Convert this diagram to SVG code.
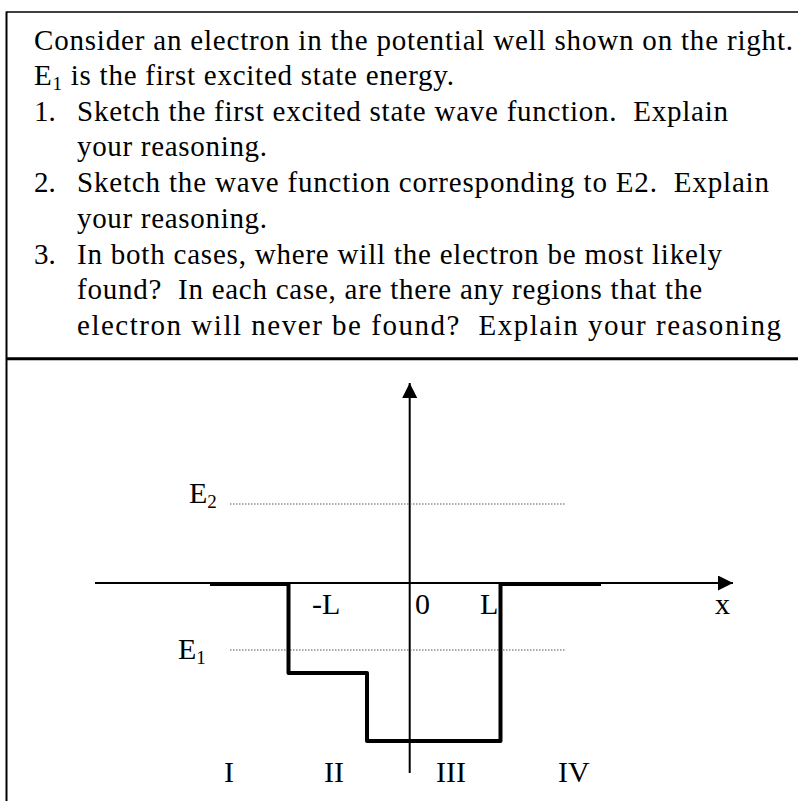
<svg xmlns="http://www.w3.org/2000/svg" width="798" height="801" viewBox="0 0 798 801" xml:space="preserve">
<defs>
<style>
.t{font-family:"Liberation Serif","Times New Roman",serif;font-size:29px;fill:#000;white-space:pre}
.d{font-size:30px}
.s{font-size:19px}
.dot{stroke:#555;stroke-width:1.2;stroke-dasharray:1.5 1.5;fill:none}
.well{stroke:#000;stroke-width:4;fill:none;stroke-linejoin:round}
.axis{stroke:#000;stroke-width:2;fill:none}
</style>
<marker id="arr" viewBox="0 0 15 15" refX="15" refY="7.5" markerWidth="15" markerHeight="15" markerUnits="userSpaceOnUse" orient="auto">
<path d="M0,0 L15,7.5 L0,15 Z" fill="#000"/>
</marker>
</defs>
<rect width="798" height="801" fill="#fff"/>
<g id="frame">
<line x1="6.5" y1="12" x2="798" y2="12" stroke="#000" stroke-width="1.5"/>
<line x1="6.5" y1="11.5" x2="6.5" y2="801" stroke="#000" stroke-width="2"/>
<line x1="6.5" y1="358.7" x2="798" y2="358.7" stroke="#000" stroke-width="3"/>
</g>
<g id="question">
<text class="t" x="34" y="50" textLength="759" lengthAdjust="spacing">Consider an electron in the potential well shown on the right.</text>
<text class="t" x="34" y="85" textLength="420" lengthAdjust="spacing">E<tspan class="s" dy="5">1</tspan><tspan dy="-5"> is the first excited state energy.</tspan></text>
<text class="t" x="34" y="121">1.</text>
<text class="t" x="77" y="121" textLength="651" lengthAdjust="spacing">Sketch the first excited state wave function.  Explain</text>
<text class="t" x="77" y="156" textLength="190" lengthAdjust="spacing">your reasoning.</text>
<text class="t" x="34" y="192">2.</text>
<text class="t" x="77" y="192" textLength="692" lengthAdjust="spacing">Sketch the wave function corresponding to E2.  Explain</text>
<text class="t" x="77" y="228" textLength="190" lengthAdjust="spacing">your reasoning.</text>
<text class="t" x="34" y="264">3.</text>
<text class="t" x="77" y="264" textLength="645" lengthAdjust="spacing">In both cases, where will the electron be most likely</text>
<text class="t" x="77" y="299" textLength="625" lengthAdjust="spacing">found?  In each case, are there any regions that the</text>
<text class="t" x="77" y="335" textLength="704" lengthAdjust="spacing">electron will never be found?  Explain your reasoning</text>
</g>
<g id="connectors">
<line class="axis" x1="409.7" y1="773" x2="409.7" y2="383" marker-end="url(#arr)"/>
<line class="axis" x1="95" y1="583" x2="733" y2="583" marker-end="url(#arr)"/>
<line class="dot" x1="230" y1="504" x2="566" y2="504"/>
<line class="dot" x1="230" y1="650" x2="566" y2="650"/>
</g>
<g id="well">
<polyline class="well" points="210,584 288.5,584 288.5,673 367,673 367,741 500.5,741 500.5,584 601,584"/>
</g>
<g id="labels">
<text class="t d" x="189" y="503">E<tspan class="s" dy="5">2</tspan></text>
<text class="t d" x="178" y="659">E<tspan class="s" dy="5">1</tspan></text>
<text class="t d" x="312" y="614">-L</text>
<text class="t d" x="415" y="614">0</text>
<text class="t d" x="480" y="614">L</text>
<text class="t d" x="715" y="614">x</text>
<text class="t d" x="224" y="782">I</text>
<text class="t d" x="324" y="782">II</text>
<text class="t d" x="436" y="782">III</text>
<text class="t d" x="558" y="782">IV</text>
</g>
</svg>
